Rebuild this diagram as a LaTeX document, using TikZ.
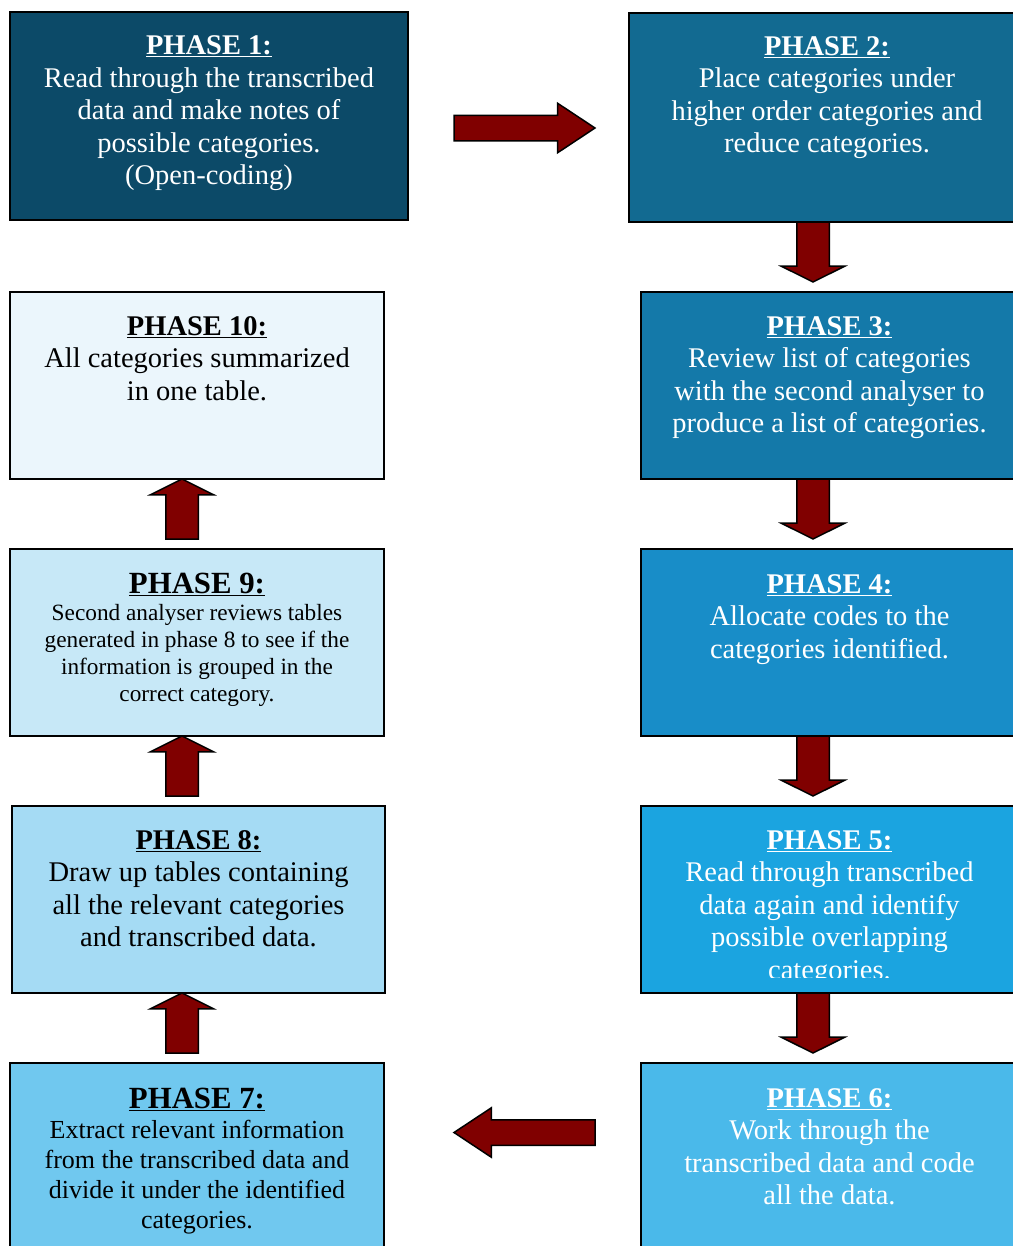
\documentclass[tikz,border=0pt]{standalone}
\usepackage{fontspec}
\setmainfont{Liberation Serif}
\usetikzlibrary{positioning}
\usetikzlibrary{shapes.arrows}
\definecolor{phase1}{HTML}{0C4A68}
\definecolor{phase2}{HTML}{126A91}
\definecolor{phase3}{HTML}{1479A9}
\definecolor{phase4}{HTML}{188DC8}
\definecolor{phase5}{HTML}{1BA4E0}
\definecolor{phase6}{HTML}{4AB9EA}
\definecolor{phase7}{HTML}{70C8EF}
\definecolor{phase8}{HTML}{A5DBF4}
\definecolor{phase9}{HTML}{C7E8F7}
\definecolor{phase10}{HTML}{EBF6FC}
\definecolor{arrow-red}{HTML}{800000}

\begin{document}
\begin{tikzpicture}[x=1bp, y=-1bp, node distance=70bp,
    phasebox/.style={draw=black, line width=2bp, rectangle, inner sep=0pt, outer sep=0pt,
      minimum width=377bp, minimum height=187bp},
    phasetext/.style={anchor=north, align=center, inner sep=0pt,
      font=\fontsize{28.5bp}{32.5bp}\selectfont},
    fatarrow/.style={single arrow, draw=black, line width=1.5bp,
      fill=arrow-red, inner xsep=0pt, outer sep=0pt},
    sidearrow/.style={fatarrow, minimum height=141bp, minimum width=48bp, inner ysep=12bp,
      single arrow head extend=12bp, single arrow tip angle=67},
    vertarrow/.style={fatarrow, minimum height=60bp, minimum width=62bp, inner ysep=15.5bp,
      single arrow head extend=15.5bp, single arrow tip angle=127}]
  \useasboundingbox (0,0) rectangle (1013,1246);

  % right column
  \node[phasebox, fill=phase2, minimum width=396bp, minimum height=209bp] (p2) at (827,117.5) {};
  \node[phasebox, fill=phase3] (p3) at (829.5,385.5) {};
  \node[phasebox, fill=phase4, below=of p3] (p4) {};
  \node[phasebox, fill=phase5, below=of p4] (p5) {};
  \node[phasebox, fill=phase6, below=of p5] (p6) {};

  % left column
  \node[phasebox, fill=phase1, minimum width=398bp, minimum height=208bp] (p1) at (209,116) {};
  \node[phasebox, fill=phase10, minimum width=374bp] (p10) at (197,385.5) {};
  \node[phasebox, fill=phase9, minimum width=374bp, below=of p10] (p9) {};
  \node[phasebox, fill=phase8, minimum width=373bp, below=of p9, xshift=1.5bp] (p8) {};
  \node[phasebox, fill=phase7, minimum width=374bp, below=of p8, xshift=-1.5bp] (p7) {};

  % texts
  \node[phasetext, text=white] (t1) at ([yshift=-23.5bp]p1.north)
    {\underline{\textbf{PHASE 1:}}\\Read through the transcribed\\data and make notes of\\possible categories.\\(Open-coding)};
  \node[phasetext, text=white] (t2) at ([yshift=-23bp]p2.north)
    {\underline{\textbf{PHASE 2:}}\\Place categories under\\higher order categories and\\reduce categories.};
  \node[phasetext, text=white] (t3) at ([yshift=-24bp]p3.north)
    {\underline{\textbf{PHASE 3:}}\\Review list of categories\\with the second analyser to\\produce a list of categories.};
  \node[phasetext, text=white] (t4) at ([yshift=-25bp]p4.north)
    {\underline{\textbf{PHASE 4:}}\\Allocate codes to the\\categories identified.};
  \begin{scope}
    \clip (p5.north west) rectangle ([yshift=16bp]p5.south east);
    \node[phasetext, text=white] (t5) at ([yshift=-24bp]p5.north)
      {\underline{\textbf{PHASE 5:}}\\Read through transcribed\\data again and identify\\possible overlapping\\categories.};
  \end{scope}
  \node[phasetext, text=white] (t6) at ([yshift=-25bp]p6.north)
    {\underline{\textbf{PHASE 6:}}\\Work through the\\transcribed data and code\\all the data.};
  \node[phasetext, font=\fontsize{26bp}{30bp}\selectfont] (t7) at ([yshift=-25bp]p7.north)
    {{\fontsize{30.8bp}{30bp}\selectfont\underline{\textbf{PHASE 7:}}}\\Extract relevant information\\from the transcribed data and\\divide it under the identified\\categories.};
  \node[phasetext] (t8) at ([yshift=-24bp]p8.north)
    {\underline{\textbf{PHASE 8:}}\\Draw up tables containing\\all the relevant categories\\and transcribed data.};
  \node[phasetext, font=\fontsize{23.3bp}{27bp}\selectfont] (t9) at ([yshift=-24bp]p9.north)
    {{\fontsize{30.8bp}{27bp}\selectfont\underline{\textbf{PHASE 9:}}}\\Second analyser reviews tables\\generated in phase 8 to see if the\\information is grouped in the\\correct category.};
  \node[phasetext] (t10) at ([yshift=-24bp]p10.north)
    {\underline{\textbf{PHASE 10:}}\\All categories summarized\\in one table.};

  % arrows
  \node[sidearrow, anchor=tail] (a12) at ([xshift=46bp, yshift=-12bp]p1.east) {};
  \node[vertarrow, rotate=-90, anchor=tail] (a23) at ([xshift=-14bp]p2.south) {};
  \node[vertarrow, rotate=-90, anchor=tail] (a34) at ([xshift=-16.5bp]p3.south) {};
  \node[vertarrow, rotate=-90, anchor=tail] (a45) at ([xshift=-16.5bp]p4.south) {};
  \node[vertarrow, rotate=-90, anchor=tail] (a56) at ([xshift=-16.5bp]p5.south) {};
  \node[sidearrow, rotate=180, anchor=tail] (a67) at ([xshift=-46bp, yshift=24bp]p6.west) {};
  \node[vertarrow, rotate=90, anchor=tail] (a78) at ([xshift=-15bp, yshift=10bp]p7.north) {};
  \node[vertarrow, rotate=90, anchor=tail] (a89) at ([xshift=-16.5bp, yshift=10bp]p8.north) {};
  \node[vertarrow, rotate=90, anchor=tail] (a910) at ([xshift=-15bp, yshift=10bp]p9.north) {};
\end{tikzpicture}
\end{document}
